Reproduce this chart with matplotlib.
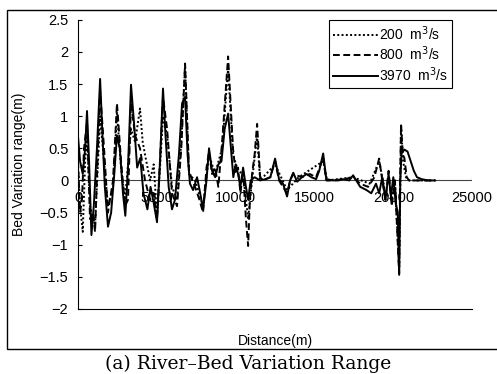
import matplotlib
matplotlib.use("Agg")
import matplotlib.pyplot as plt
from matplotlib.patches import Rectangle

plt.rcParams['font.family'] = ['Liberation Sans', 'DejaVu Sans']

# distance (m), bed variation (m) for each discharge
q3970 = [(0, 0.68), (130, 0.3), (300, 0.1), (450, 0.5), (570, 1.08), (700, 0.3), (850, -0.85),
         (1000, -0.4), (1200, 0.5), (1400, 1.58), (1550, 0.7), (1700, -0.1), (1900, -0.72),
         (2100, -0.5), (2300, 0.1), (2470, 0.7), (2650, 0.5), (2850, -0.2), (3000, -0.55),
         (3170, 0.2), (3360, 1.49), (3550, 0.9), (3750, 0.2), (3950, 0.35), (4150, -0.2),
         (4400, -0.45), (4600, -0.1), (4800, -0.35), (5010, -0.65), (5200, 0.3), (5390, 1.43),
         (5550, 0.7), (5750, -0.1), (5960, -0.45), (6150, -0.3), (6400, 0.4), (6600, 1.2),
         (6790, 1.3), (6950, 0.4), (7100, -0.05), (7300, -0.15), (7550, 0.05), (7750, -0.2),
         (7930, -0.45), (8150, 0.0), (8310, 0.5), (8500, 0.15), (8700, 0.05), (8900, 0.25),
         (9100, 0.3), (9300, 0.8), (9520, 1.04), (9700, 0.5), (9850, 0.05), (10000, 0.25),
         (10150, 0.1), (10300, -0.1), (10470, 0.2), (10650, -0.1), (10790, -0.3), (10950, 0.0),
         (11200, 0.05), (11550, 0.0), (11900, 0.02), (12200, 0.05), (12500, 0.34), (12750, 0.02),
         (13000, -0.05), (13260, -0.25), (13450, 0.0), (13650, 0.12), (13900, -0.02),
         (14200, 0.05), (14500, 0.1), (14800, 0.05), (15100, 0.02), (15300, 0.15), (15550, 0.42),
         (15750, 0.02), (16200, 0.0), (16800, 0.02), (17200, 0.0), (17450, 0.08), (17650, 0.0),
         (17900, -0.1), (18300, -0.15), (18600, -0.2), (18900, -0.05), (19100, -0.2),
         (19300, 0.05), (19500, -0.3), (19700, 0.1), (19850, -0.25), (20000, 0.05),
         (20150, -0.35), (20280, -0.5), (20370, -1.47), (20440, 0.0), (20520, 0.42),
         (20700, 0.48), (20900, 0.45), (21100, 0.3), (21300, 0.15), (21500, 0.05),
         (21800, 0.02), (22200, 0.0), (22650, 0.0)]

q800 = [(0, 0.3), (130, -0.5), (250, -0.3), (380, 0.5), (570, 0.9), (760, -0.6), (950, -0.5),
        (1080, -0.8), (1250, 0.4), (1400, 1.4), (1650, 0.5), (1900, -0.5), (2220, 0.0),
        (2470, 1.2), (2730, 0.3), (2980, -0.4), (3170, -0.3), (3360, 1.2), (3620, 0.7),
        (3930, 0.5), (4250, 0.0), (4570, -0.3), (4800, -0.2), (5010, -0.6), (5200, 0.3),
        (5390, 1.3), (5650, 0.8), (5960, -0.2), (6280, -0.4), (6550, 0.5), (6790, 1.82),
        (7040, 0.15), (7250, 0.0), (7420, -0.1), (7700, -0.3), (7930, -0.5), (8150, 0.2),
        (8310, 0.45), (8500, 0.1), (8690, 0.2), (8900, -0.1), (9140, 0.6), (9520, 1.93),
        (9830, 0.5), (10000, 0.1), (10150, 0.2), (10300, -0.2), (10470, 0.15), (10650, -0.6),
        (10790, -1.02), (10900, -0.3), (11040, 0.1), (11200, 0.4), (11360, 0.88), (11550, 0.05),
        (11900, 0.02), (12200, 0.05), (12500, 0.3), (12750, 0.0), (13000, -0.1), (13260, -0.2),
        (13450, 0.0), (13650, 0.1), (14200, 0.05), (14700, 0.1), (15100, 0.05), (15550, 0.35),
        (15750, 0.0), (16500, 0.0), (17450, 0.05), (17900, -0.05), (18400, -0.1), (18800, 0.05),
        (19100, 0.34), (19300, 0.0), (19500, -0.3), (19700, 0.15), (19900, -0.4), (20100, 0.0),
        (20250, -0.8), (20370, -1.45), (20430, 0.0), (20490, 0.88), (20600, 0.4), (20700, 0.35),
        (20850, 0.05), (21000, 0.0), (22650, 0.0)]

q200 = [(0, 0.2), (130, -0.4), (300, -0.8), (450, 0.3), (570, 0.7), (760, -0.4), (1080, -0.7),
        (1250, 0.2), (1400, 1.0), (1650, 0.3), (1900, -0.4), (2220, -0.1), (2470, 1.05),
        (2730, 0.2), (2980, -0.3), (3360, 0.8), (3620, 0.6), (3930, 1.12), (4100, 0.6),
        (4250, 0.4), (4570, 0.0), (4800, 0.25), (5010, -0.55), (5200, 0.2), (5390, 1.0),
        (5650, 0.7), (5960, -0.1), (6280, -0.3), (6550, 0.6), (6790, 1.78), (7040, 0.1),
        (7420, 0.0), (7930, -0.4), (8310, 0.4), (8690, 0.1), (9140, 0.5), (9520, 1.75),
        (9830, 0.4), (10150, 0.15), (10470, 0.1), (10790, -0.6), (11040, 0.0), (11360, 0.7),
        (11550, 0.0), (12500, 0.25), (13260, -0.15), (14000, 0.05), (15550, 0.3), (15800, 0.0),
        (17450, 0.05), (18500, -0.05), (19100, 0.3), (19500, -0.2), (19900, -0.3), (20100, 0.0),
        (20370, -1.4), (20450, 0.0), (20490, 0.85), (20620, 0.3), (20800, 0.05), (21000, 0.0),
        (22650, 0.0)]

x_ticks = [0, 5000, 10000, 15000, 20000, 25000]
y_ticks = [-2, -1.5, -1, -0.5, 0, 0.5, 1, 1.5, 2, 2.5]

fig = plt.figure(figsize=(4.97, 3.74), dpi=100)
ax = fig.add_axes([0.157, 0.174, 0.793, 0.773])

x, y = zip(*q200)
ax.plot(x, y, color='black', lw=1.4, linestyle=(0, (1, 1.2)), label='200  m$^3$/s')
x, y = zip(*q800)
ax.plot(x, y, color='black', lw=1.4, linestyle=(0, (3.5, 1.8)), label='800  m$^3$/s')
x, y = zip(*q3970)
ax.plot(x, y, color='black', lw=1.4, label='3970  m$^3$/s')

ax.set_xlim(0, 25000)
ax.set_ylim(-2, 2.5)

# horizontal axis runs through zero, plot border at the bottom
ax.axhline(0, color='#444444', lw=0.8, zorder=1)
for s in ['top', 'right']:
    ax.spines[s].set_visible(False)
ax.spines['left'].set_linewidth(0.8)
ax.spines['bottom'].set_linewidth(0.8)

ax.set_yticks(y_ticks)
ax.set_yticklabels([('%g' % v).replace('-', '\u2212') for v in y_ticks])
ax.tick_params(axis='y', direction='in', length=3, labelsize=10.5, pad=7)
ax.set_xticks([])
for t in x_ticks:
    ax.text(t, -0.16, str(t), ha='center', va='top', fontsize=10.5)
ax.plot([25000, 25000], [0, 0.05], color='#444444', lw=0.8)

ax.set_ylabel('Bed Variation range(m)', fontsize=10, labelpad=10)
fig.text(0.555, 0.088, 'Distance(m)', ha='center', va='center', fontsize=10)

leg = ax.legend(loc='upper right', bbox_to_anchor=(0.95, 1.0), fontsize=10,
                handlelength=3.2, handletextpad=0.1, borderpad=0.3, labelspacing=0.15,
                fancybox=False, framealpha=1, edgecolor='black', borderaxespad=0)
leg.get_frame().set_linewidth(0.8)

fig.patches.append(Rectangle((0.014, 0.067), 1.0, 0.906, transform=fig.transFigure,
                             fill=False, edgecolor='black', lw=1.0))
fig.text(0.5, 0.028, '(a) River\u2013Bed Variation Range', ha='center', va='center',
         fontsize=13.5, family=['DejaVu Serif', 'Liberation Serif'])

fig.savefig('out.png', dpi=100)
